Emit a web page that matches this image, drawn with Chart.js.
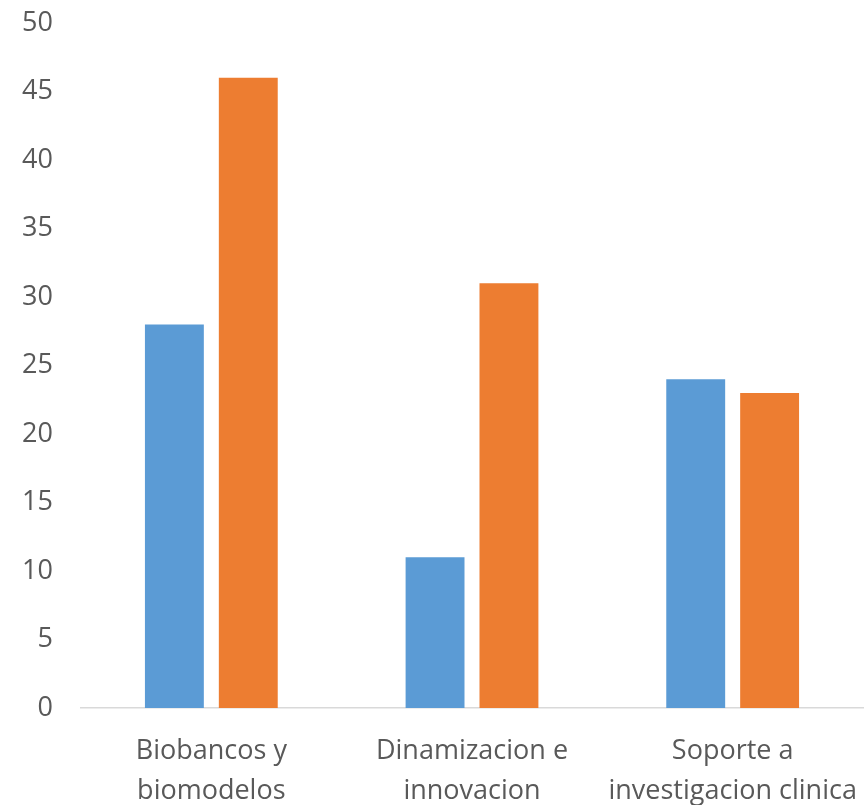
<!DOCTYPE html>
<html>
<head>
<meta charset="utf-8">
<script src="https://cdn.jsdelivr.net/npm/chart.js@4"></script>
<style>
html,body{margin:0;padding:0;background:#fff;}
#wrap{width:864px;height:805px;}
</style>
</head>
<body>
<div id="wrap"><canvas id="c" width="864" height="805"></canvas></div>
<script>
const categories = [["Biobancos y","biomodelos"],["Dinamizacion e","innovacion"],["Soporte a","investigacion clinica"]];
const serie1 = [28, 11, 24];
const serie2 = [46, 31, 23];
const yTicks = {min:0, max:50, step:5};

new Chart(document.getElementById('c'), {
  type: 'bar',
  data: {
    labels: categories,
    datasets: [
      {label:'Serie 1', data: serie1, backgroundColor:'#5B9BD5', borderWidth:0},
      {label:'Serie 2', data: serie2, backgroundColor:'#ED7D31', borderWidth:0}
    ]
  },
  options: {
    responsive:false,
    animation:false,
    devicePixelRatio:1,
    layout:{padding:{top:23,left:0,right:1,bottom:0}},
    plugins:{legend:{display:false},tooltip:{enabled:false}},
    datasets:{bar:{categoryPercentage:0.567,barPercentage:0.797}},
    scales:{
      x:{
        grid:{display:false, drawTicks:false},
        border:{display:true,color:'#D9D9D9',width:1.5},
        ticks:{color:'#595959',font:{family:'Open Sans',size:27,lineHeight:'40px'},padding:23,maxRotation:0,autoSkip:false},
        afterFit(s){s.height=97;s.paddingLeft=0;s.paddingRight=0;}
      },
      y:{
        min:yTicks.min,max:yTicks.max,
        grid:{display:false, drawTicks:false},
        border:{display:false},
        ticks:{stepSize:yTicks.step,color:'#595959',font:{family:'Open Sans',size:27},padding:28},
        afterFit(s){s.width=81;s.paddingTop=0;s.paddingBottom=0;}
      }
    }
  }
});
</script>
</body>
</html>
